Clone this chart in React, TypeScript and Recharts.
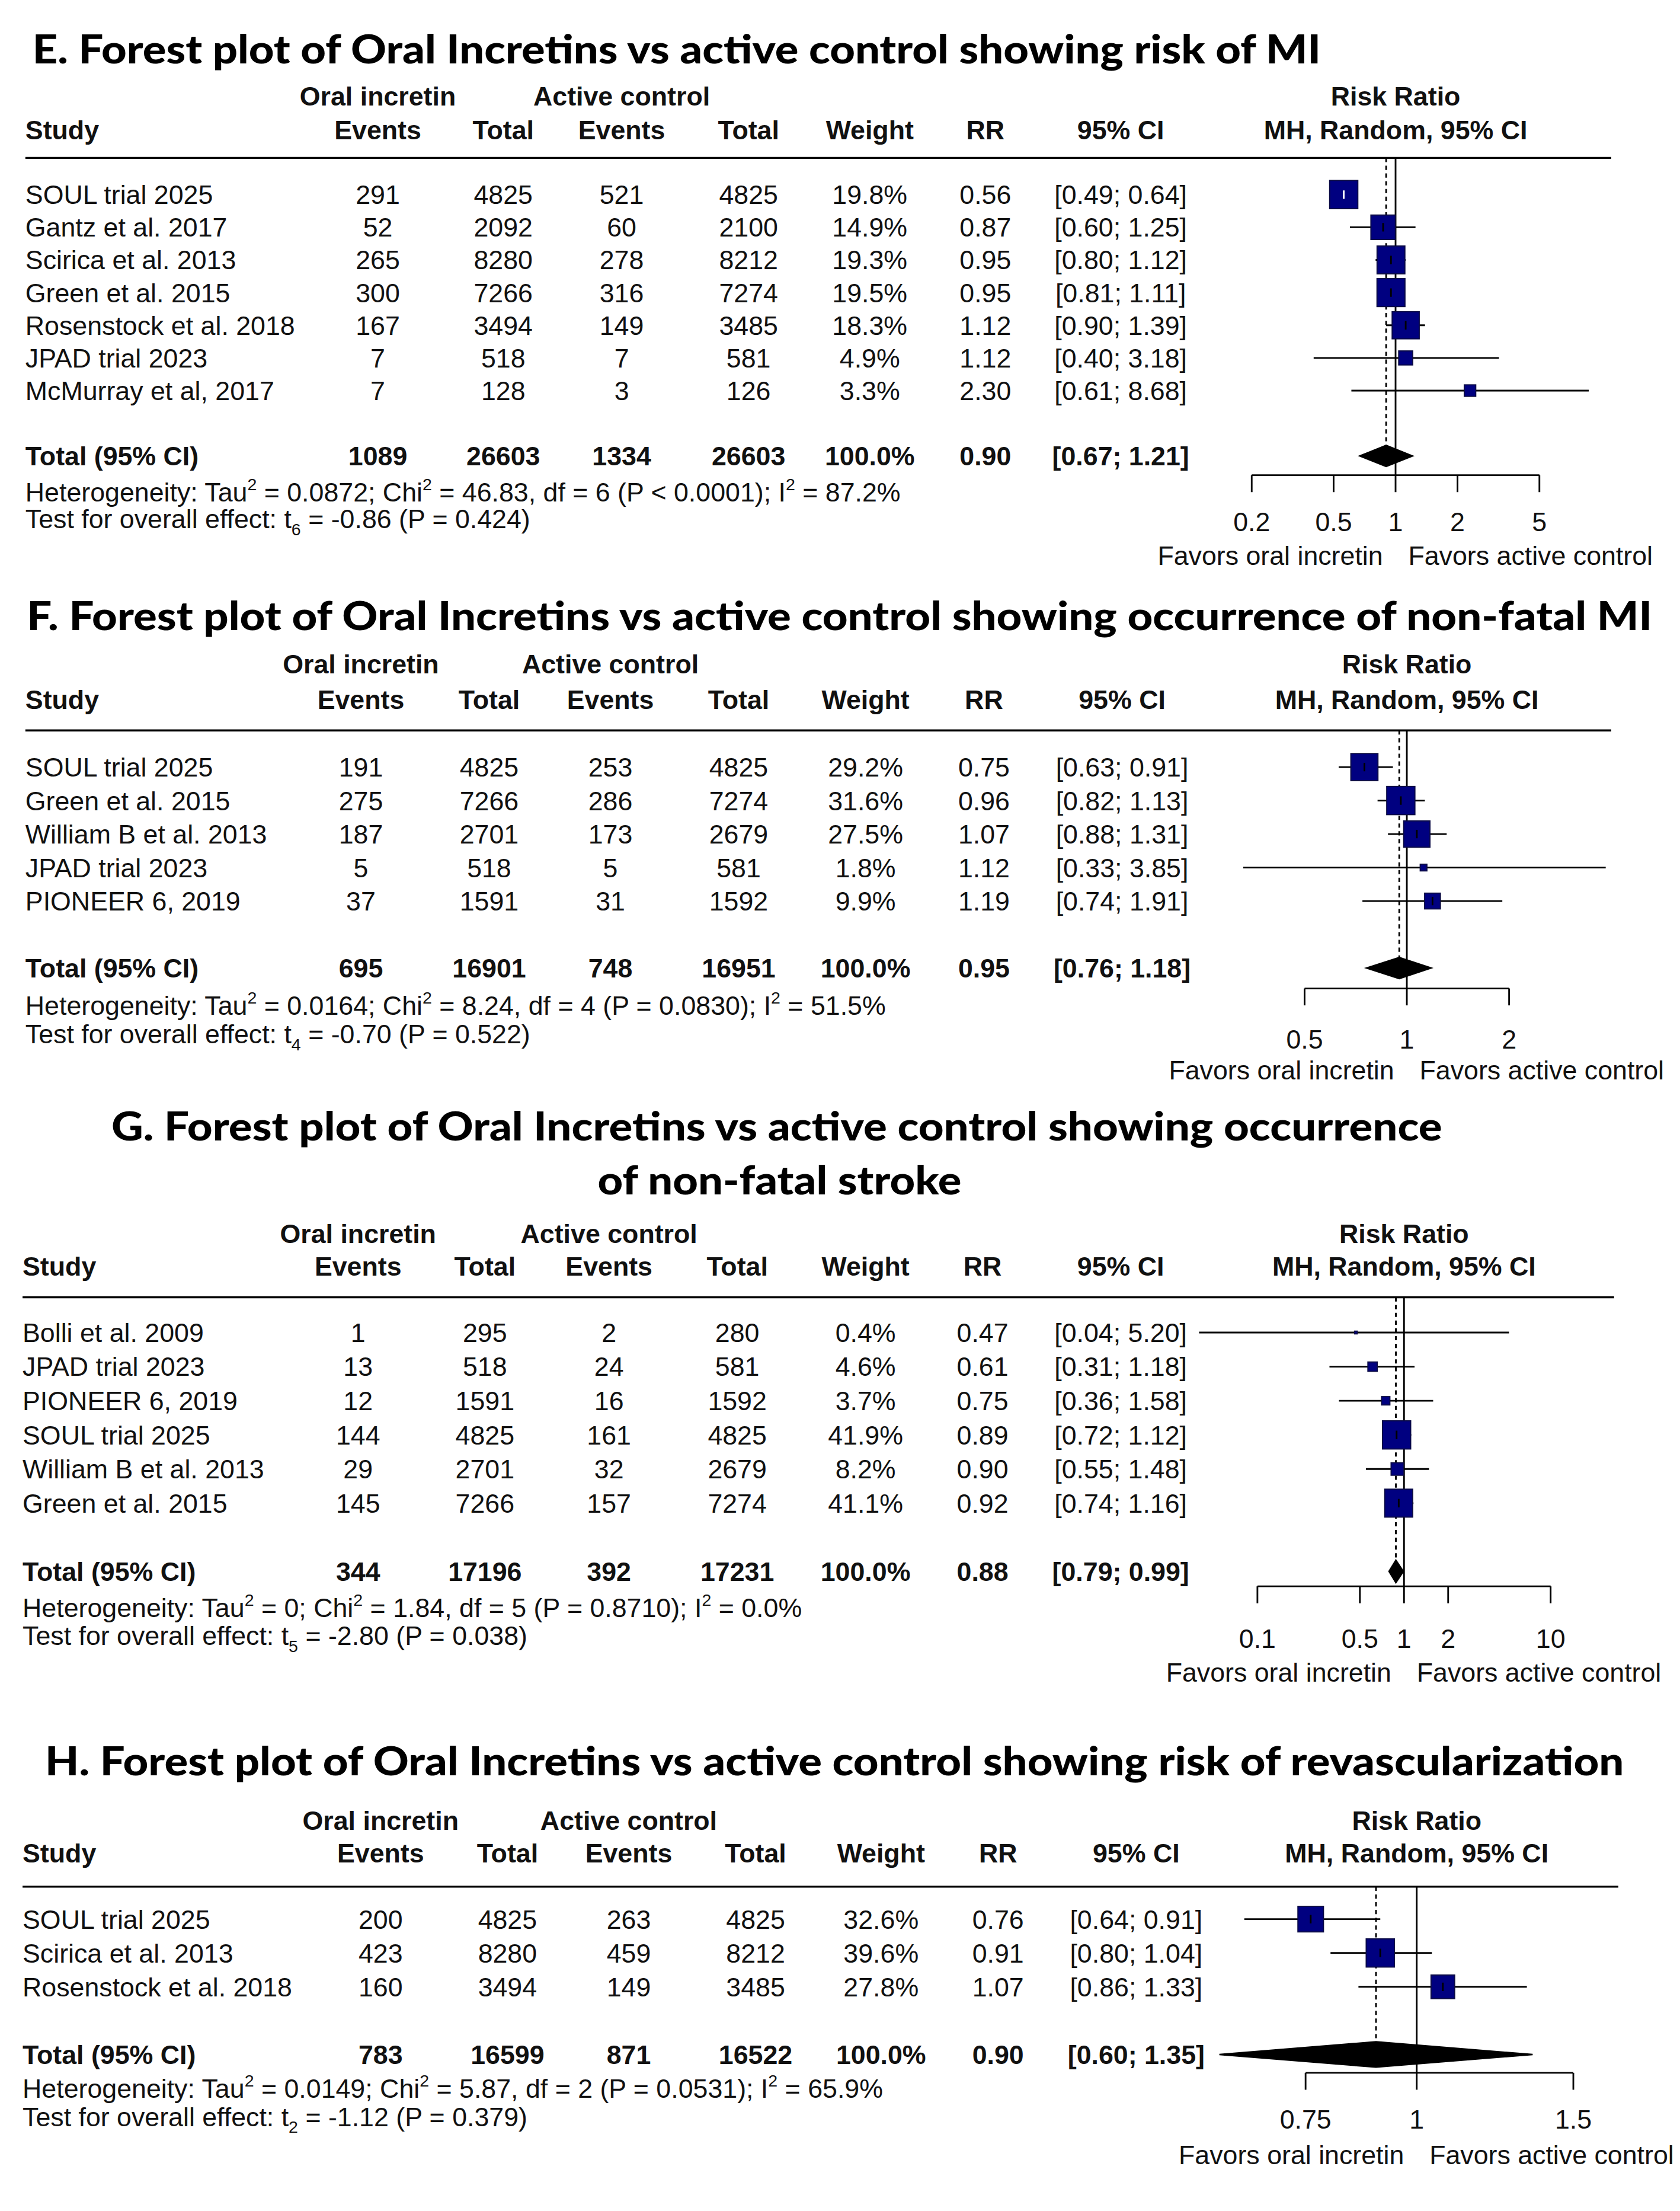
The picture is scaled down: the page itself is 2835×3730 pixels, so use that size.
import React from "react";
import { ScatterChart, Scatter, XAxis, YAxis, ErrorBar, ReferenceLine } from "recharts";

// layout units: the page is laid out on a 1192 x 1568 grid, then scaled up to 2835 x 3730
const SCALE = 3730 / 1568;
const W = 2835 / SCALE;
const H = 1568;
const TABLE_FONT = '"Liberation Sans", Arial, Helvetica, sans-serif';
const TITLE_FONT = 'Lato, "Open Sans", sans-serif';
const FS = 18.8;
const INK = "#111";
const NAVY = "#000080";

// ---------- E. risk of MI ----------
const E_STUDY = ["SOUL trial 2025", "Gantz et al. 2017", "Scirica et al. 2013", "Green et al. 2015", "Rosenstock et al. 2018", "JPAD trial 2023", "McMurray et al, 2017"];
const E_EV_ORAL = [291, 52, 265, 300, 167, 7, 7];
const E_N_ORAL = [4825, 2092, 8280, 7266, 3494, 518, 128];
const E_EV_CTRL = [521, 60, 278, 316, 149, 7, 3];
const E_N_CTRL = [4825, 2100, 8212, 7274, 3485, 581, 126];
const E_WEIGHT = [19.8, 14.9, 19.3, 19.5, 18.3, 4.9, 3.3];
const E_RR = [0.56, 0.87, 0.95, 0.95, 1.12, 1.12, 2.3];
const E_LOW = [0.49, 0.6, 0.8, 0.81, 0.9, 0.4, 0.61];
const E_HIGH = [0.64, 1.25, 1.12, 1.11, 1.39, 3.18, 8.68];
const E_TOTAL = [1089, 26603, 1334, 26603];
const E_POOLED = [0.9, 0.67, 1.21];
const E_HET = ["0.0872", "46.83", "6", "< 0.0001", "87.2%"];
const E_TEST = ["6", "-0.86", "0.424"];
const E_TICKS = [0.2, 0.5, 1, 2, 5];

// ---------- F. non-fatal MI ----------
const F_STUDY = ["SOUL trial 2025", "Green et al. 2015", "William B et al. 2013", "JPAD trial 2023", "PIONEER 6, 2019"];
const F_EV_ORAL = [191, 275, 187, 5, 37];
const F_N_ORAL = [4825, 7266, 2701, 518, 1591];
const F_EV_CTRL = [253, 286, 173, 5, 31];
const F_N_CTRL = [4825, 7274, 2679, 581, 1592];
const F_WEIGHT = [29.2, 31.6, 27.5, 1.8, 9.9];
const F_RR = [0.75, 0.96, 1.07, 1.12, 1.19];
const F_LOW = [0.63, 0.82, 0.88, 0.33, 0.74];
const F_HIGH = [0.91, 1.13, 1.31, 3.85, 1.91];
const F_TOTAL = [695, 16901, 748, 16951];
const F_POOLED = [0.95, 0.76, 1.18];
const F_HET = ["0.0164", "8.24", "4", "= 0.0830", "51.5%"];
const F_TEST = ["4", "-0.70", "0.522"];
const F_TICKS = [0.5, 1, 2];

// ---------- G. non-fatal stroke ----------
const G_STUDY = ["Bolli et al. 2009", "JPAD trial 2023", "PIONEER 6, 2019", "SOUL trial 2025", "William B et al. 2013", "Green et al. 2015"];
const G_EV_ORAL = [1, 13, 12, 144, 29, 145];
const G_N_ORAL = [295, 518, 1591, 4825, 2701, 7266];
const G_EV_CTRL = [2, 24, 16, 161, 32, 157];
const G_N_CTRL = [280, 581, 1592, 4825, 2679, 7274];
const G_WEIGHT = [0.4, 4.6, 3.7, 41.9, 8.2, 41.1];
const G_RR = [0.47, 0.61, 0.75, 0.89, 0.9, 0.92];
const G_LOW = [0.04, 0.31, 0.36, 0.72, 0.55, 0.74];
const G_HIGH = [5.2, 1.18, 1.58, 1.12, 1.48, 1.16];
const G_TOTAL = [344, 17196, 392, 17231];
const G_POOLED = [0.88, 0.79, 0.99];
const G_HET = ["0", "1.84", "5", "= 0.8710", "0.0%"];
const G_TEST = ["5", "-2.80", "0.038"];
const G_TICKS = [0.1, 0.5, 1, 2, 10];

// ---------- H. revascularization ----------
const H_STUDY = ["SOUL trial 2025", "Scirica et al. 2013", "Rosenstock et al. 2018"];
const H_EV_ORAL = [200, 423, 160];
const H_N_ORAL = [4825, 8280, 3494];
const H_EV_CTRL = [263, 459, 149];
const H_N_CTRL = [4825, 8212, 3485];
const H_WEIGHT = [32.6, 39.6, 27.8];
const H_RR = [0.76, 0.91, 1.07];
const H_LOW = [0.64, 0.8, 0.86];
const H_HIGH = [0.91, 1.04, 1.33];
const H_TOTAL = [783, 16599, 871, 16522];
const H_POOLED = [0.9, 0.6, 1.35];
const H_HET = ["0.0149", "5.87", "2", "= 0.0531", "65.9%"];
const H_TEST = ["2", "-1.12", "0.379"];
const H_TICKS = [0.75, 1, 1.5];

const PANELS = [
  {
    data: { study: E_STUDY, evO: E_EV_ORAL, nO: E_N_ORAL, evC: E_EV_CTRL, nC: E_N_CTRL, weight: E_WEIGHT, rr: E_RR, low: E_LOW, high: E_HIGH, total: E_TOTAL, pooled: E_POOLED, het: E_HET, test: E_TEST, ticks: E_TICKS },
    titles: [{ text: "E. Forest plot of Oral Incretins vs active control showing risk of MI", x0: 23, x1: 937, y: 45 }],
    lay: { studyX: 18, cols: [268, 357, 441, 531, 617, 699, 795], head1: 68, head2: 92, rule: 112, ruleEnd: 1143, row0: 138, step: 23.17, het: 349, test: 368, axis: 337, label: 370, favors: 394, one: 990, ppd: 146, domain: [0.05, 20], dh: 7.5 },
  },
  {
    data: { study: F_STUDY, evO: F_EV_ORAL, nO: F_N_ORAL, evC: F_EV_CTRL, nC: F_N_CTRL, weight: F_WEIGHT, rr: F_RR, low: F_LOW, high: F_HIGH, total: F_TOTAL, pooled: F_POOLED, het: F_HET, test: F_TEST, ticks: F_TICKS },
    titles: [{ text: "F. Forest plot of Oral Incretins vs active control showing occurrence of non-fatal MI", x0: 19, x1: 1172, y: 447 }],
    lay: { studyX: 18, cols: [256, 347, 433, 524, 614, 698, 796], head1: 471, head2: 496, rule: 518, ruleEnd: 1143, row0: 544, step: 23.75, het: 713, test: 733, axis: 701, label: 737, favors: 759, one: 998, ppd: 241, domain: [0.2, 5], dh: 7.5 },
  },
  {
    data: { study: G_STUDY, evO: G_EV_ORAL, nO: G_N_ORAL, evC: G_EV_CTRL, nC: G_N_CTRL, weight: G_WEIGHT, rr: G_RR, low: G_LOW, high: G_HIGH, total: G_TOTAL, pooled: G_POOLED, het: G_HET, test: G_TEST, ticks: G_TICKS },
    titles: [
      { text: "G. Forest plot of Oral Incretins vs active control showing occurrence", x0: 79, x1: 1023, y: 809 },
      { text: "of non-fatal stroke", x0: 424, x1: 682, y: 847 },
    ],
    lay: { studyX: 16, cols: [254, 344, 432, 523, 614, 697, 795], head1: 875, head2: 898, rule: 920, ruleEnd: 1145, row0: 945, step: 24.2, het: 1140, test: 1160, axis: 1125, label: 1162, favors: 1186, one: 996, ppd: 104, domain: [0.02, 30], dh: 8 },
  },
  {
    data: { study: H_STUDY, evO: H_EV_ORAL, nO: H_N_ORAL, evC: H_EV_CTRL, nC: H_N_CTRL, weight: H_WEIGHT, rr: H_RR, low: H_LOW, high: H_HIGH, total: H_TOTAL, pooled: H_POOLED, het: H_HET, test: H_TEST, ticks: H_TICKS },
    titles: [{ text: "H. Forest plot of Oral Incretins vs active control showing risk of revascularization", x0: 32, x1: 1152, y: 1259 }],
    lay: { studyX: 16, cols: [270, 360, 446, 536, 625, 708, 806], head1: 1291, head2: 1314, rule: 1338, ruleEnd: 1148, row0: 1361, step: 24, het: 1481, test: 1501, axis: 1470, label: 1503, favors: 1528, one: 1005, ppd: 631, domain: [0.5, 1.8], dh: 9 },
  },
];

const Square = (p: any) => {
  const s = p.payload.side;
  return <rect x={p.cx - s / 2} y={p.cy - s / 2} width={s} height={s} fill={NAVY} stroke="#0b0b45" strokeWidth={0.8} />;
};

const centerTick = (color: string) => (p: any) => {
  if (p.payload.side < 10) return <g />;
  return <line x1={p.cx} x2={p.cx} y1={p.cy - 3} y2={p.cy + 3} stroke={color} strokeWidth={1.2} />;
};

const Blank = () => <g />;

const diamondPath = (lp: any) => {
  const pts = (lp.points || []).map((q: any) => `${q.x ?? q.cx},${q.y ?? q.cy}`).join(" ");
  return <polygon points={pts} fill="#000" stroke="#000" strokeWidth={1} />;
};

const sup = (s: string) => (
  <tspan dy={-8} fontSize={12}>{s}</tspan>
);

function ForestPanel({ panel }: { panel: any }) {
  const { data: d, lay: l, titles } = panel;
  const n = d.study.length;
  const wmax = Math.max(...d.weight);
  const rows = d.study.map((_: string, i: number) => {
    const side = 20 * Math.sqrt(d.weight[i] / wmax);
    const ciPx = (Math.log10(d.high[i]) - Math.log10(d.low[i])) * l.ppd;
    return { idx: i, rr: d.rr[i], err: [d.rr[i] - d.low[i], d.high[i] - d.rr[i]], side, inside: ciPx < side * 0.95 };
  });
  const totalIdx = n + 1;
  const [pRR, pLo, pHi] = d.pooled;
  const dh = l.dh / l.step;
  const diamond = [
    { idx: totalIdx, rr: pLo },
    { idx: totalIdx - dh, rr: pRR },
    { idx: totalIdx, rr: pHi },
    { idx: totalIdx + dh, rr: pRR },
  ];
  const yTop = (l.rule - l.row0) / l.step;
  const yBot = (l.axis - l.row0) / l.step;
  const left = l.one + Math.log10(l.domain[0]) * l.ppd;
  const right = W - (l.one + Math.log10(l.domain[1]) * l.ppd);
  const chartH = l.axis - l.rule + 60;
  const base = 6.7;
  const rowY = (i: number) => l.row0 + i * l.step + base;
  const c = l.cols;

  const cells = (vals: string[], y: number, bold: boolean, key: string) =>
    vals.map((v, j) => (
      <text key={key + j} x={c[j]} y={y} textAnchor="middle" fontWeight={bold ? 700 : 400}>{v}</text>
    ));

  return (
    <>
      <svg width={W} height={H} style={{ position: "absolute", left: 0, top: 0 }}>
        {titles.map((t: any) => (
          <text key={t.text} x={t.x0} y={t.y} textLength={t.x1 - t.x0} lengthAdjust="spacingAndGlyphs" fontFamily={TITLE_FONT} fontWeight={900} fontSize={28} fill="#000">
            {t.text}
          </text>
        ))}
        <g fontFamily={TABLE_FONT} fontSize={FS} fill={INK}>
          <g fontWeight={700}>
            <text x={c[0]} y={l.head1 + base} textAnchor="middle">Oral incretin</text>
            <text x={c[2]} y={l.head1 + base} textAnchor="middle">Active control</text>
            <text x={l.one} y={l.head1 + base} textAnchor="middle">Risk Ratio</text>
            <text x={l.studyX} y={l.head2 + base}>Study</text>
            {["Events", "Total", "Events", "Total", "Weight", "RR", "95% CI"].map((h, j) => (
              <text key={"h" + j} x={c[j]} y={l.head2 + base} textAnchor="middle">{h}</text>
            ))}
            <text x={l.one} y={l.head2 + base} textAnchor="middle">MH, Random, 95% CI</text>
          </g>
          <line x1={l.studyX} x2={l.ruleEnd} y1={l.rule} y2={l.rule} stroke="#000" strokeWidth={1.4} />
          {d.study.map((s: string, i: number) => (
            <g key={s}>
              <text x={l.studyX} y={rowY(i)}>{s}</text>
              {cells(
                [String(d.evO[i]), String(d.nO[i]), String(d.evC[i]), String(d.nC[i]), d.weight[i].toFixed(1) + "%", d.rr[i].toFixed(2), `[${d.low[i].toFixed(2)}; ${d.high[i].toFixed(2)}]`],
                rowY(i), false, s
              )}
            </g>
          ))}
          <text x={l.studyX} y={rowY(totalIdx)} fontWeight={700}>Total (95% CI)</text>
          {cells(
            [...d.total.map(String), "100.0%", pRR.toFixed(2), `[${pLo.toFixed(2)}; ${pHi.toFixed(2)}]`],
            rowY(totalIdx), true, "tot"
          )}
          <text x={l.studyX} y={l.het + base}>
            Heterogeneity: Tau{sup("2")}
            <tspan dy={8}>{` = ${d.het[0]}; Chi`}</tspan>
            {sup("2")}
            <tspan dy={8}>{` = ${d.het[1]}, df = ${d.het[2]} (P ${d.het[3]}); I`}</tspan>
            {sup("2")}
            <tspan dy={8}>{` = ${d.het[4]}`}</tspan>
          </text>
          <text x={l.studyX} y={l.test + base}>
            Test for overall effect: t
            <tspan dy={5} fontSize={12}>{d.test[0]}</tspan>
            <tspan dy={-5}>{` = ${d.test[1]} (P = ${d.test[2]})`}</tspan>
          </text>
          <text x={l.one - 9} y={l.favors + base} textAnchor="end">Favors oral incretin</text>
          <text x={l.one + 9} y={l.favors + base}>Favors active control</text>
        </g>
      </svg>
      <div style={{ position: "absolute", left: 0, top: l.rule, width: W, height: chartH }}>
        <ScatterChart width={W} height={chartH} margin={{ top: 0, bottom: 0, left, right }}>
          <XAxis
            type="number"
            dataKey="rr"
            scale="log"
            domain={l.domain}
            allowDataOverflow
            ticks={d.ticks}
            interval={0}
            axisLine={false}
            tickLine={{ stroke: "#000", strokeWidth: 1.2 }}
            tickSize={12}
            tickMargin={l.label - 6.7 - l.axis - 12}
            height={60}
            tick={{ fontSize: FS, fontFamily: TABLE_FONT, fill: INK }}
          />
          <YAxis type="number" dataKey="idx" domain={[yTop, yBot]} reversed allowDataOverflow hide width={0} />
          <ReferenceLine x={1} stroke="#000" strokeWidth={1.2} ifOverflow="visible" />
          <ReferenceLine
            segment={[{ x: pRR, y: yTop }, { x: pRR, y: totalIdx }]}
            stroke="#000"
            strokeWidth={1.2}
            strokeDasharray="3 2.5"
            ifOverflow="visible"
          />
          <ReferenceLine
            segment={[{ x: d.ticks[0], y: yBot }, { x: d.ticks[d.ticks.length - 1], y: yBot }]}
            stroke="#000"
            strokeWidth={1.2}
            ifOverflow="visible"
          />
          <Scatter data={rows} shape={Square} isAnimationActive={false} />
          <Scatter data={rows.filter((r: any) => !r.inside)} shape={centerTick("#000")} isAnimationActive={false}>
            <ErrorBar dataKey="err" direction="x" width={0} stroke="#000" strokeWidth={1.2} isAnimationActive={false} />
          </Scatter>
          <Scatter data={rows.filter((r: any) => r.inside)} shape={centerTick("#fff")} isAnimationActive={false}>
            <ErrorBar dataKey="err" direction="x" width={0} stroke="#fff" strokeWidth={1.2} isAnimationActive={false} />
          </Scatter>
          <Scatter data={diamond} shape={Blank} line={diamondPath} isAnimationActive={false} />
        </ScatterChart>
      </div>
    </>
  );
}

export default function App() {
  return (
    <div style={{ position: "absolute", left: 0, top: 0, width: 2835, height: 3730, background: "#fff", overflow: "hidden" }}>
      <div style={{ position: "relative", width: W, height: H, transform: `scale(${SCALE})`, transformOrigin: "0 0" }}>
        {PANELS.map((p, i) => (
          <ForestPanel key={i} panel={p} />
        ))}
      </div>
    </div>
  );
}
